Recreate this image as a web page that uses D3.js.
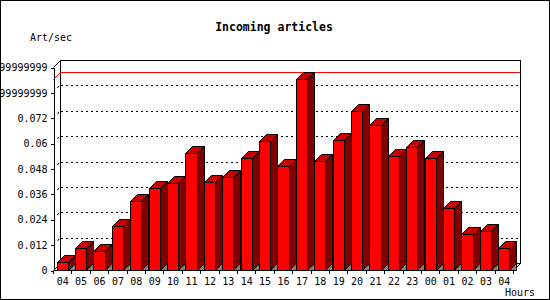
<!DOCTYPE html>
<html><head><meta charset="utf-8">
<script src="https://cdn.jsdelivr.net/npm/d3@7"></script>
<style>
html,body{margin:0;padding:0;background:#fff;}
svg{display:block;}
text{font-family:"DejaVu Sans Mono",monospace;}
</style></head>
<body><svg id="c" width="550" height="300"></svg>
<script>
const categories = ["04","05","06","07","08","09","10","11","12","13","14","15","16","17","18","19","20","21","22","23","00","01","02","03","04"];
const values = [0.00365,0.0104,0.00885,0.0207,0.0327,0.0387,0.0411,0.0554,0.0415,0.0439,0.0529,0.0611,0.0491,0.0903,0.0515,0.0614,0.0753,0.0685,0.0539,0.0581,0.0529,0.0292,0.0171,0.0183,0.0103];
const yTicks = [0,0.012,0.024,0.036,0.048,0.06,0.072,0.084,0.096];
const yTickLabels = ["0","0.012","0.024","0.036","0.048","0.06","0.072","0.08399999999999999","0.09599999999999999"];
const chartTitle = "Incoming articles";
const yTitle = "Art/sec";
const xTitle = "Hours";

const svg = d3.select("#c");
const D = 7; // 3D depth
const pL = 53, pR = 513, pB = 270, pT = 67;

const x = d3.scaleBand().domain(d3.range(categories.length)).range([pL, pR]).paddingInner(0.4).paddingOuter(0.2);
const y = d3.scaleLinear().domain([0, 0.096]).range([pB, pT]);

// outer border
svg.append("rect").attr("x",0.5).attr("y",0.5).attr("width",549).attr("height",299)
  .attr("fill","#fff").attr("stroke","#000");

// titles
svg.append("text").attr("x",274).attr("y",30.5).attr("text-anchor","middle")
  .attr("font-size","11.5px").attr("font-weight","bold").text(chartTitle);
svg.append("text").attr("x",30).attr("y",41).attr("font-size","10px").text(yTitle);
svg.append("text").attr("x",535).attr("y",295.5).attr("text-anchor","end").attr("font-size","10px").text(xTitle);

// back plane
const bx0 = pL + D, bx1 = pR + D, by0 = pT - D, by1 = pB - D;
svg.append("rect").attr("x",bx0+0.5).attr("y",by0+0.5).attr("width",bx1-bx0).attr("height",by1-by0)
  .attr("fill","#fff").attr("stroke","#000");

// gridlines on back plane
yTicks.slice(1, -1).forEach(t => {
  const yy = Math.round(y(t)) - D + 0.5;
  svg.append("line").attr("x1",bx0+1).attr("x2",bx1).attr("y1",yy).attr("y2",yy)
    .attr("stroke","#000").attr("stroke-dasharray","2,3");
  svg.append("line").attr("x1",pL+4.5).attr("x2",pL+6).attr("y1",yy+2.5).attr("y2",yy+0.5)
    .attr("stroke","#000");
});

// max line (red)
const maxV = d3.max(values);
const my = Math.round(y(maxV)) + 0.5;
svg.append("line").attr("x1",bx0).attr("x2",bx1).attr("y1",my-D).attr("y2",my-D).attr("stroke","#f00");
svg.append("line").attr("x1",pL+0.5).attr("x2",bx0+0.5).attr("y1",my).attr("y2",my-D).attr("stroke","#f00");

// frame 3D edges
const edges = [[pL+0.5, pT+0.5, bx0+0.5, by0+0.5],[pL+0.5,pB+0.5,bx0+0.5,by1+0.5],[pR+0.5,pB+0.5,bx1+0.5,by1+0.5]];
edges.forEach(e => svg.append("line").attr("x1",e[0]).attr("y1",e[1]).attr("x2",e[2]).attr("y2",e[3]).attr("stroke","#000"));

// bars
const g = svg.append("g");
values.forEach((v, i) => {
  const x0 = Math.round(x(i)) + 0.5;
  const x1 = Math.round(x(i) + x.bandwidth()) + 0.5;
  const yv = Math.round(y(v)) + 0.5;
  const yb = pB + 0.5;
  g.append("polygon").attr("points",[[x1,yb],[x1+D,yb-D],[x1+D,yb]].join(" "))
    .attr("fill","#808080").attr("stroke","#000");
  g.append("polygon").attr("points",[[x1,yv],[x1+D,yv-D],[x1+D,yb-D],[x1,yb]].join(" "))
    .attr("fill","#800000").attr("stroke","#000");
  g.append("polygon").attr("points",[[x0,yv],[x0+D,yv-D],[x1+D,yv-D],[x1,yv]].join(" "))
    .attr("fill","#c80000").attr("stroke","#000");
  g.append("rect").attr("x",x0).attr("y",yv).attr("width",x1-x0).attr("height",yb-yv)
    .attr("fill","#ff0000").attr("stroke","#000");
});

// axes
const yAxis = d3.axisLeft(y).tickValues(yTicks).tickFormat((d,i) => yTickLabels[i]).tickSize(3).tickSizeOuter(0).tickPadding(3);
const ya = svg.append("g").attr("transform",`translate(${pL+0.5},0.5)`).call(yAxis);
const xAxis = d3.axisBottom(x).tickFormat(i => categories[i]).tickSize(0).tickSizeOuter(0).tickPadding(7);
const xa = svg.append("g").attr("transform",`translate(0.5,${pB+0.5})`).call(xAxis);
xa.select(".domain").attr("d",`M${pL},0H${pR}`);
const bounds = d3.range(categories.length + 1).map(i => pL + i * x.step());
xa.selectAll(".btick").data(bounds).enter().append("line").attr("class","btick")
  .attr("x1",d=>Math.round(d)).attr("x2",d=>Math.round(d)).attr("y1",0).attr("y2",3).attr("stroke","#000");
[ya, xa].forEach(a => a.selectAll("text").attr("font-family","DejaVu Sans Mono, monospace").attr("font-size","10px").attr("fill","#000"));
[ya, xa].forEach(a => a.selectAll("path,line").attr("stroke","#000").attr("shape-rendering","crispEdges"));
</script></body></html>
